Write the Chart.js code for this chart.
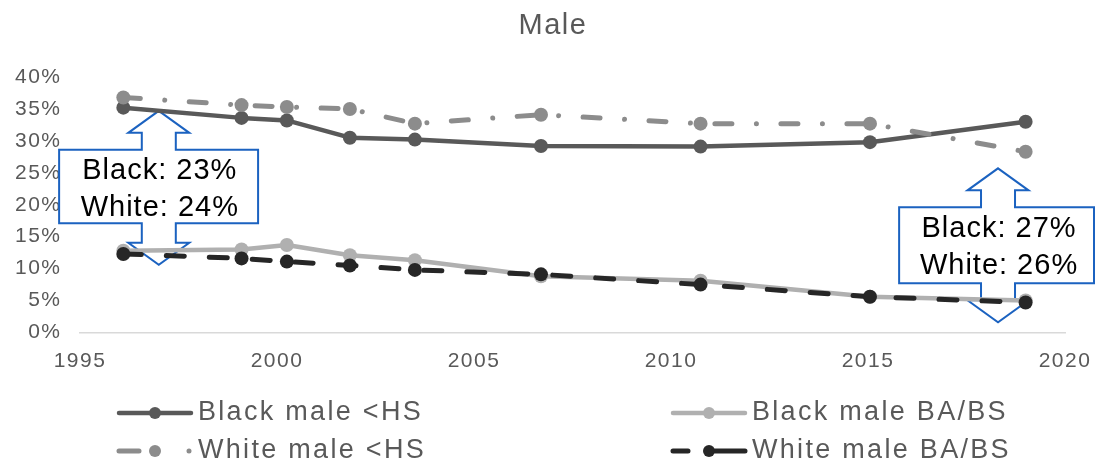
<!DOCTYPE html>
<html>
<head>
<meta charset="utf-8">
<script src="https://cdn.jsdelivr.net/npm/chart.js@4.4.1/dist/chart.umd.min.js"></script>
<style>
  html, body { margin: 0; padding: 0; background: #ffffff; overflow: hidden; }
  #wrap { width: 1095px; height: 465px; position: relative; }
</style>
</head>
<body>
<div id="wrap"><canvas id="chart" width="1095" height="465"></canvas></div>
<script>
// ---------------- data ----------------
const titleText = 'Male';
const years = [1996.1, 1999.1, 2000.25, 2001.85, 2003.5, 2006.7, 2010.75, 2015.05, 2019.0];
const blackLessHS = [35.2, 33.6, 33.2, 30.5, 30.2, 29.2, 29.1, 29.8, 33.0];
const blackBABS   = [12.8, 13.0, 13.7, 12.1, 11.3, 8.8, 8.1, 5.6, 5.0];
const whiteLessHS = [36.8, 35.6, 35.3, 35.0, 32.7, 34.1, 32.7, 32.7, 28.3];
const whiteBABS   = [12.3, 11.6, 11.1, 10.5, 9.8, 9.1, 7.5, 5.6, 4.7];
const seriesNames = ['Black male <HS', 'Black male BA/BS', 'White male <HS', 'White male BA/BS'];
const xTickValues = [1995, 2000, 2005, 2010, 2015, 2020];
const yTickValues = [0, 5, 10, 15, 20, 25, 30, 35, 40];
const calloutLines = [['Black: 23%', 'White: 24%'], ['Black: 27%', 'White: 26%']];
// callout anchors in data units (year / percent)
const calloutX      = [1997.0, 2018.3];
const calloutTipTop = [34.7, 25.7];
const calloutTipBot = [10.6, 1.6];
const calloutBoxTop = [28.6, 19.6];
const calloutBoxBot = [17.1, 7.7];
const calloutLeft   = [1994.47, 2015.79];
const calloutRight  = [1999.52, 2020.74];

// ---------------- styles ----------------
const FONT = "'Liberation Sans', Arial, Helvetica, sans-serif";
const TEXT_GREY = '#595959';
const SPACING = '1.5px';

function pts(vals) { return years.map((x, i) => ({ x: x, y: vals[i] })); }

const styles = [
  { color: '#595959', width: 4.5, dash: [], legendDash: [], order: 4 },
  { color: '#b0b0b0', width: 4.5, dash: [], legendDash: [], order: 3 },
  { color: '#8c8c8c', width: 5,   dash: [17, 24.5, 0.01, 24.5], legendDash: [20, 50, 0.01, 100], order: 2 },
  { color: '#262626', width: 5,   dash: [18, 25], legendDash: [15, 27, 40, 0.01], order: 1 }
];
const seriesValues = [blackLessHS, blackBABS, whiteLessHS, whiteBABS];

const datasets = seriesNames.map((name, i) => ({
  label: name,
  data: pts(seriesValues[i]),
  borderColor: styles[i].color,
  backgroundColor: styles[i].color,
  pointBackgroundColor: styles[i].color,
  pointBorderColor: styles[i].color,
  pointBorderWidth: 0,
  pointRadius: 7,
  pointHoverRadius: 7,
  borderWidth: styles[i].width,
  borderDash: styles[i].dash,
  borderCapStyle: 'round',
  borderJoinStyle: 'round',
  tension: 0,
  fill: false,
  order: styles[i].order
}));

// ---------------- plugins ----------------
const spacingPlugin = {
  id: 'spacing',
  beforeUpdate(chart) { chart.ctx.letterSpacing = SPACING; },
  beforeLayout(chart) { chart.ctx.letterSpacing = SPACING; },
  beforeDraw(chart) { chart.ctx.letterSpacing = SPACING; }
};

const calloutPlugin = {
  id: 'callouts',
  beforeDatasetsDraw(chart) {
    const ctx = chart.ctx;
    const xs = chart.scales.x, ys = chart.scales.y;
    for (let k = 0; k < calloutLines.length; k++) {
      const cx = xs.getPixelForValue(calloutX[k]);
      const tTop = ys.getPixelForValue(calloutTipTop[k]);
      const tBot = ys.getPixelForValue(calloutTipBot[k]);
      const bTop = ys.getPixelForValue(calloutBoxTop[k]);
      const bBot = ys.getPixelForValue(calloutBoxBot[k]);
      const left = xs.getPixelForValue(calloutLeft[k]);
      const right = Math.min(xs.getPixelForValue(calloutRight[k]), chart.width - 1);
      const hw = 30.5, sw = 17, hh = 22;
      const hTop = tTop + hh, hBot = tBot - hh;
      ctx.save();
      ctx.beginPath();
      ctx.moveTo(cx, tTop);
      ctx.lineTo(cx + hw, hTop);
      ctx.lineTo(cx + sw, hTop);
      ctx.lineTo(cx + sw, bTop);
      ctx.lineTo(right, bTop);
      ctx.lineTo(right, bBot);
      ctx.lineTo(cx + sw, bBot);
      ctx.lineTo(cx + sw, hBot);
      ctx.lineTo(cx + hw, hBot);
      ctx.lineTo(cx, tBot);
      ctx.lineTo(cx - hw, hBot);
      ctx.lineTo(cx - sw, hBot);
      ctx.lineTo(cx - sw, bBot);
      ctx.lineTo(left, bBot);
      ctx.lineTo(left, bTop);
      ctx.lineTo(cx - sw, bTop);
      ctx.lineTo(cx - sw, hTop);
      ctx.lineTo(cx - hw, hTop);
      ctx.closePath();
      ctx.fillStyle = '#ffffff';
      ctx.fill();
      ctx.lineWidth = 2;
      ctx.lineJoin = 'miter';
      ctx.strokeStyle = '#1b62c0';
      ctx.stroke();
      // text
      ctx.letterSpacing = '1px';
      ctx.font = '29px ' + FONT;
      ctx.fillStyle = '#000000';
      ctx.textAlign = 'center';
      ctx.textBaseline = 'middle';
      const mid = (bTop + bBot) / 2;
      ctx.fillText(calloutLines[k][0], cx + 1, mid - 16);
      ctx.fillText(calloutLines[k][1], cx + 1, mid + 21);
      ctx.restore();
    }
  }
};

const legendPlugin = {
  id: 'customLegend',
  afterDraw(chart) {
    const ctx = chart.ctx;
    const colX = [119, 673];
    const rowY = [413, 451];
    const len = 72;
    ctx.save();
    chart.data.datasets.forEach((ds, i) => {
      const x0 = colX[i % 2];
      const y = rowY[Math.floor(i / 2)];
      ctx.save();
      ctx.strokeStyle = ds.borderColor;
      ctx.lineWidth = ds.borderWidth;
      ctx.lineCap = 'round';
      ctx.setLineDash(styles[i].legendDash);
      ctx.beginPath();
      ctx.moveTo(x0, y);
      ctx.lineTo(x0 + len, y);
      ctx.stroke();
      ctx.setLineDash([]);
      ctx.fillStyle = ds.pointBackgroundColor;
      ctx.beginPath();
      ctx.arc(x0 + (i === 2 ? 36 : len / 2), y, 6, 0, Math.PI * 2);
      ctx.fill();
      ctx.restore();
      ctx.letterSpacing = '2.3px';
      ctx.font = '27px ' + FONT;
      ctx.fillStyle = TEXT_GREY;
      ctx.textAlign = 'left';
      ctx.textBaseline = 'middle';
      ctx.fillText(ds.label, x0 + len + 7, y);
    });
    ctx.restore();
  }
};

// ---------------- chart ----------------
new Chart(document.getElementById('chart'), {
  type: 'line',
  data: { datasets: datasets },
  plugins: [spacingPlugin, calloutPlugin, legendPlugin],
  options: {
    responsive: false,
    animation: false,
    devicePixelRatio: 1,
    layout: { padding: { left: 11, right: 0, top: 0, bottom: 82.5 } },
    plugins: {
      legend: { display: false },
      tooltip: { enabled: false },
      title: {
        display: true,
        text: titleText,
        color: TEXT_GREY,
        font: { family: FONT, size: 29, weight: 'normal', lineHeight: 1.2 },
        padding: { top: 8.6, bottom: 33.6 }
      }
    },
    scales: {
      x: {
        type: 'linear',
        min: xTickValues[0],
        max: xTickValues[xTickValues.length - 1],
        afterBuildTicks(scale) { scale.ticks = xTickValues.map(v => ({ value: v })); },
        afterFit(scale) { scale.height = 50; scale.paddingLeft = 0; scale.paddingRight = 30; },
        grid: { display: false, drawTicks: false },
        border: { display: true, color: '#d9d9d9', width: 1.5 },
        ticks: {
          color: TEXT_GREY,
          font: { family: FONT, size: 21 },
          padding: 16.5,
          maxRotation: 0,
          autoSkip: false,
          callback: v => String(v)
        }
      },
      y: {
        min: yTickValues[0],
        max: yTickValues[yTickValues.length - 1],
        afterBuildTicks(scale) { scale.ticks = yTickValues.map(v => ({ value: v })); },
        afterFit(scale) { scale.width = 69; },
        grid: { display: false, drawTicks: false },
        border: { display: false },
        ticks: {
          color: TEXT_GREY,
          font: { family: FONT, size: 21 },
          padding: 18.5,
          callback: v => v + '%'
        }
      }
    }
  }
});
</script>
</body>
</html>
